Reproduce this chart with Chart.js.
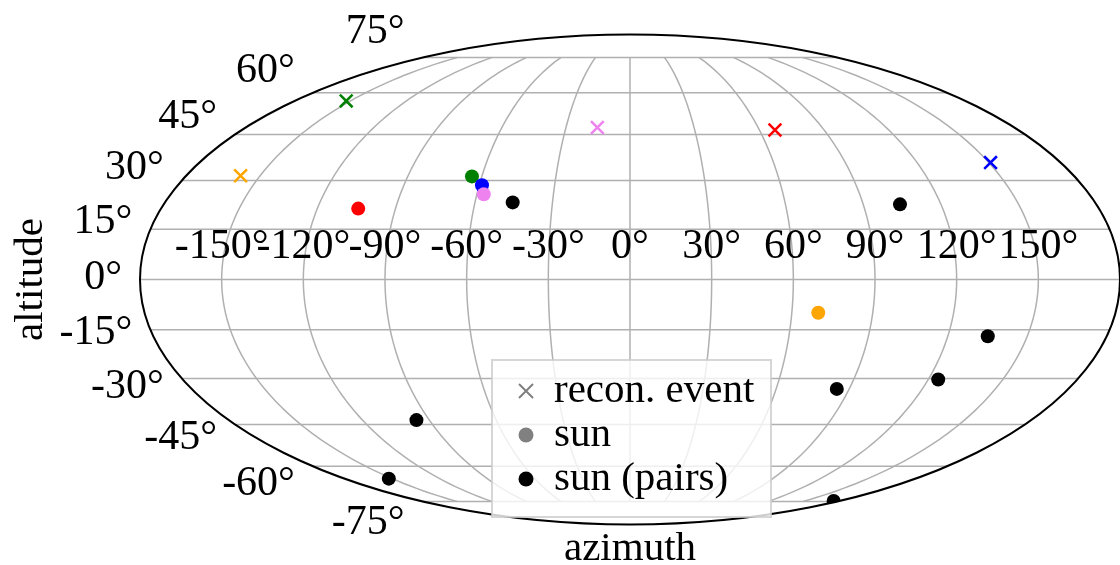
<!DOCTYPE html>
<html>
<head>
<meta charset="utf-8">
<script src="https://cdn.jsdelivr.net/npm/chart.js@4"></script>
<style>
html, body { margin: 0; padding: 0; background: #fff; }
#wrap { width: 1120px; height: 565px; }
</style>
</head>
<body>
<div id="wrap"><canvas id="chart" width="1120" height="565"></canvas></div>
<script>
// one colour per reconstructed event, same colour for its sun position
const eventColors = ["orange", "red", "green", "blue", "violet"];
const eventAz = [-157.9, 67.2, -152.3, 150.7, -15.3];
const eventAlt = [31.5, 46.5, 56.9, 35.7, 47.4];
const sunAz = [69.8, -104.3, -64.0, -58.9, -57.3];
const sunAlt = [-9.9, 21.3, 31.3, 28.5, 25.7];

const pairAz = [-45.4, 104.2, 135.1, 124.0, 84.9, 175.3, -95.8, -152.1];
const pairAlt = [23.2, 22.6, -17.0, -30.3, -33.3, -74.8, -43.5, -64.9];

const azTicks = [-150, -120, -90, -60, -30, 0, 30, 60, 90, 120, 150];
const altTicks = [-75, -60, -45, -30, -15, 0, 15, 30, 45, 60, 75];

const FONT = '"Liberation Serif", "DejaVu Serif", serif';
const R2 = Math.SQRT2;

// mollweide auxiliary angle
function aux(alt) {
    const phi = alt * Math.PI / 180;
    if (Math.abs(alt) >= 90) return Math.sign(alt) * Math.PI / 2;
    let t = phi;
    for (let i = 0; i < 40; i++) {
        const f = 2 * t + Math.sin(2 * t) - Math.PI * Math.sin(phi);
        t -= f / (2 + 2 * Math.cos(2 * t));
    }
    return t;
}

function project(az, alt) {
    const t = aux(alt);
    return {
        x: (2 * R2 / Math.PI) * (az * Math.PI / 180) * Math.cos(t),
        y: R2 * Math.sin(t),
    };
}

const toPoints = (az, alt) => az.map((a, i) => project(a, alt[i]));

function ellipsePath(ctx, x, y) {
    const cx = x.getPixelForValue(0), cy = y.getPixelForValue(0);
    const rx = x.getPixelForValue(2 * R2) - cx;
    const ry = cy - y.getPixelForValue(R2);
    ctx.beginPath();
    ctx.ellipse(cx, cy, rx, ry, 0, 0, Math.PI * 2);
}

const skyGrid = {
    id: "skyGrid",
    beforeDatasetsDraw(chart) {
        const { ctx, scales: { x, y } } = chart;
        ctx.save();
        ctx.strokeStyle = "#b0b0b0";
        ctx.lineWidth = 1.5;
        altTicks.forEach((alt) => {
            const t = aux(alt);
            const yy = y.getPixelForValue(R2 * Math.sin(t));
            ctx.beginPath();
            ctx.moveTo(x.getPixelForValue(-2 * R2 * Math.cos(t)), yy);
            ctx.lineTo(x.getPixelForValue(2 * R2 * Math.cos(t)), yy);
            ctx.stroke();
        });
        azTicks.forEach((az) => {
            ctx.beginPath();
            for (let alt = -75; alt <= 75; alt += 1) {
                const p = project(az, alt);
                const px = x.getPixelForValue(p.x), py = y.getPixelForValue(p.y);
                if (alt === -75) ctx.moveTo(px, py); else ctx.lineTo(px, py);
            }
            ctx.stroke();
        });
        ctx.restore();
        // clip the markers to the sky ellipse
        ctx.save();
        ellipsePath(ctx, x, y);
        ctx.clip();
    },
    afterDatasetsDraw(chart) {
        const { ctx, scales: { x, y } } = chart;
        ctx.restore();
        ctx.save();
        ellipsePath(ctx, x, y);
        ctx.strokeStyle = "#000";
        ctx.lineWidth = 2;
        ctx.stroke();

        const cy = y.getPixelForValue(0);
        ctx.fillStyle = "#000";
        ctx.font = "42px " + FONT;
        ctx.textAlign = "center";
        ctx.textBaseline = "alphabetic";
        azTicks.forEach((az) => {
            ctx.fillText(az + "°", x.getPixelForValue(project(az, 0).x), cy - 22);
        });
        ctx.textAlign = "right";
        ctx.textBaseline = "middle";
        altTicks.forEach((alt) => {
            const t = aux(alt);
            const ly = y.getPixelForValue(R2 * Math.sin(t));
            const lx = x.getPixelForValue(-2 * R2 * Math.cos(t));
            ctx.fillText(alt + "°", lx - 18, ly - 0.105 * (cy - ly) - 2);
        });

        ctx.font = "41px " + FONT;
        ctx.textAlign = "center";
        ctx.textBaseline = "alphabetic";
        ctx.fillText("azimuth", x.getPixelForValue(0), 560);
        ctx.save();
        ctx.translate(42, cy);
        ctx.rotate(-Math.PI / 2);
        ctx.fillText("altitude", 0, 0);
        ctx.restore();

        // legend box in the lower middle
        const bx = 492, by = 360, bw = 279, bh = 157;
        ctx.fillStyle = "rgba(255,255,255,0.8)";
        ctx.fillRect(bx, by, bw, bh);
        ctx.strokeStyle = "rgba(204,204,204,0.8)";
        ctx.lineWidth = 2;
        ctx.strokeRect(bx, by, bw, bh);
        ctx.textAlign = "left";
        chart.data.datasets.forEach((ds, i) => {
            const my = 391 + i * 44;
            const mx = 526;
            ctx.fillStyle = ds.legendColor;
            ctx.strokeStyle = ds.legendColor;
            if (ds.pointStyle === "crossRot") {
                ctx.lineWidth = 2;
                ctx.beginPath();
                ctx.moveTo(mx - 7, my - 7); ctx.lineTo(mx + 7, my + 7);
                ctx.moveTo(mx - 7, my + 7); ctx.lineTo(mx + 7, my - 7);
                ctx.stroke();
            } else {
                ctx.beginPath();
                ctx.arc(mx, my, 7.5, 0, Math.PI * 2);
                ctx.fill();
            }
            ctx.fillStyle = "#000";
            ctx.fillText(ds.label, 554, my + 11);
        });
        ctx.restore();
    },
};

new Chart(document.getElementById("chart"), {
    type: "scatter",
    data: {
        datasets: [
            {
                label: "recon. event",
                data: toPoints(eventAz, eventAlt),
                pointStyle: "crossRot",
                pointRadius: 9,
                pointBorderWidth: 2.5,
                pointBorderColor: eventColors,
                pointBackgroundColor: eventColors,
                legendColor: "gray",
                order: 1,
            },
            {
                label: "sun",
                data: toPoints(sunAz, sunAlt),
                pointStyle: "circle",
                pointRadius: 7,
                pointBorderWidth: 0,
                pointBackgroundColor: eventColors,
                pointBorderColor: eventColors,
                legendColor: "gray",
                order: 2,
            },
            {
                label: "sun (pairs)",
                data: toPoints(pairAz, pairAlt),
                pointStyle: "circle",
                pointRadius: 7,
                pointBorderWidth: 0,
                pointBackgroundColor: "black",
                pointBorderColor: "black",
                legendColor: "black",
                order: 3,
            },
        ],
    },
    options: {
        responsive: false,
        animation: false,
        layout: { autoPadding: false, padding: { left: 140, right: 0, top: 34.5, bottom: 40.5 } },
        scales: {
            x: { type: "linear", min: -2 * R2, max: 2 * R2, display: false },
            y: { type: "linear", min: -R2, max: R2, display: false },
        },
        plugins: {
            legend: { display: false },
            tooltip: { enabled: false },
        },
    },
    plugins: [skyGrid],
});
</script>
</body>
</html>
